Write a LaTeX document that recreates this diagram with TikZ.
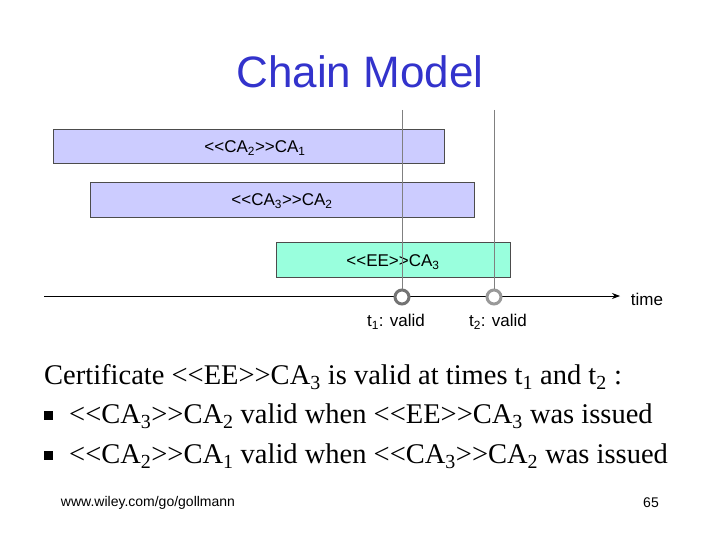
\documentclass[tikz,border=0pt]{standalone}
\usepackage{fontspec}
\setmainfont{Liberation Serif}
\newfontfamily\arial{Liberation Sans}
\usetikzlibrary{arrows.meta}
\definecolor{titleblue}{HTML}{3333CC}
\definecolor{barpurple}{HTML}{CCCCFF}
\definecolor{baraqua}{HTML}{99FFDD}
\newcommand{\sbs}[1]{\textsubscript{#1}}
\tikzset{bar/.style={draw=black!70,line width=0.8pt,anchor=north west,inner sep=0pt},
lbl/.style={font=\arial\fontsize{17}{19}\selectfont},
ring/.style={circle,line width=3pt,fill=white,minimum size=14pt,inner sep=0pt},
vline/.style={gray,line width=0.8pt},
body/.style={anchor=west,font=\fontsize{28.5}{32}\selectfont,inner sep=0pt}}
\begin{document}
\begin{tikzpicture}[x=1pt,y=-1pt]
\useasboundingbox (0,0) rectangle (720,540);
\node[font=\arial\fontsize{44}{50}\selectfont,text=titleblue] (title) at (360,72) {Chain Model};
\node[bar,fill=barpurple,minimum width=391pt,minimum height=34pt] (b1) at (53,129) {};
\node[lbl] (l1) at (255,148) {<{}<CA\sbs{2}>{}>CA\sbs{1}};
\node[bar,fill=barpurple,minimum width=384pt,minimum height=35pt] (b2) at (90,182) {};
\node[lbl] (l2) at (282,201) {<{}<CA\sbs{3}>{}>CA\sbs{2}};
\node[bar,fill=baraqua,minimum width=234pt,minimum height=35pt] (b3) at (276,242) {};
\node[lbl] (l3) at (393,262) {<{}<EE>{}>CA\sbs{3}};
\coordinate (ts) at (44,296);
\coordinate (te) at (620,296);
\draw[-{Stealth[length=8pt,width=6pt]},line width=0.8pt] (ts) -- (te);
\coordinate (v1) at (402,110);
\coordinate (v2) at (494,110);
\node[ring,draw=gray!90!black] (c1) at (402,297) {};
\node[ring,draw=gray!80] (c2) at (494,297) {};
\draw[vline] (v1) -- (c1);
\draw[vline] (v2) -- (c2);
\node[lbl] (t1) at (396,322) {t\sbs{1}: valid};
\node[lbl] (t2) at (498,322) {t\sbs{2}: valid};
\node[lbl] (time) at (647,299) {time};
\node[body] (p) at (44,377) {Certificate <{}<EE>{}>CA\sbs{3} is valid at times t\sbs{1} and t\sbs{2} :};
\node[body] (q1) at (44,416) {\raisebox{3pt}{\rule{9pt}{9pt}}\hspace{16pt}<{}<CA\sbs{3}>{}>CA\sbs{2} valid when <{}<EE>{}>CA\sbs{3} was issued};
\node[body] (q2) at (44,456) {\raisebox{3pt}{\rule{9pt}{9pt}}\hspace{16pt}<{}<CA\sbs{2}>{}>CA\sbs{1} valid when <{}<CA\sbs{3}>{}>CA\sbs{2} was issued};
\node[font=\arial\fontsize{14}{16}\selectfont] (f1) at (148,503) {www.wiley.com/go/gollmann};
\node[font=\arial\fontsize{14}{16}\selectfont] (f2) at (651,503) {65};
\end{tikzpicture}
\end{document}
